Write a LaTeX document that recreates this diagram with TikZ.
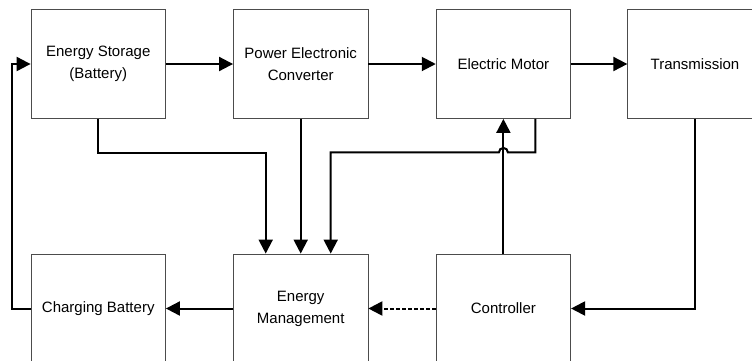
\documentclass[tikz,border=0pt]{standalone}
\usepackage{fontspec}
\setmainfont{Liberation Sans}
\usetikzlibrary{arrows.meta}

\begin{document}
\begin{tikzpicture}[>={Triangle[length=14pt,width=14pt]},x=1pt,y=-1pt,
  block/.style={draw=black!70,line width=0.8pt,minimum width=134.5pt,minimum height=109pt,
    inner sep=0pt,align=center,font=\fontsize{15}{22}\selectfont},
  link/.style={->,line width=2pt},
  ctrl/.style={link,dash pattern=on 3.5pt off 2.5pt}]
  \useasboundingbox (0,0) rectangle (752,360);
  % top row
  \node[block] (es)  at (98.25,64)  {Energy Storage\\(Battery)};
  \node[block] (pec) at (300.7,64)  {Power Electronic\\Converter};
  \node[block] (em)  at (503.4,64)  {Electric Motor};
  \node[block] (tr)  at (695,64)    {Transmission};
  % bottom row
  \node[block] (cb)  at (98.25,308.5) {Charging Battery};
  \node[block] (ems) at (300.7,308.5) {Energy\\Management};
  \node[block] (ctl) at (503.4,308.5) {Controller};
  % power chain
  \draw[link] (es) -- (pec);
  \draw[link] (pec) -- (em);
  \draw[link] (em) -- (tr);
  % recharge loop
  \draw[link] (cb.west) -- ++(-19,0) |- (es.west);
  % signals to energy management
  \draw[link] (es.south) -- ++(0,34) -| ([xshift=-35pt]ems.north);
  \draw[link] (pec) -- (ems);
  \coordinate (hop) at ([yshift=-33.5pt]em.south);
  \draw[link] ([xshift=32pt]em.south) |- ([xshift=4.5pt]hop)
    arc[start angle=0,end angle=180,radius=4.5pt] -| ([xshift=30pt]ems.north);
  % control
  \draw[link] (ctl) -- (em);
  \draw[link] (tr.south) |- (ctl.east);
  \draw[ctrl] (ctl) -- (ems);
  \draw[link] (ems) -- (cb);
\end{tikzpicture}
\end{document}
